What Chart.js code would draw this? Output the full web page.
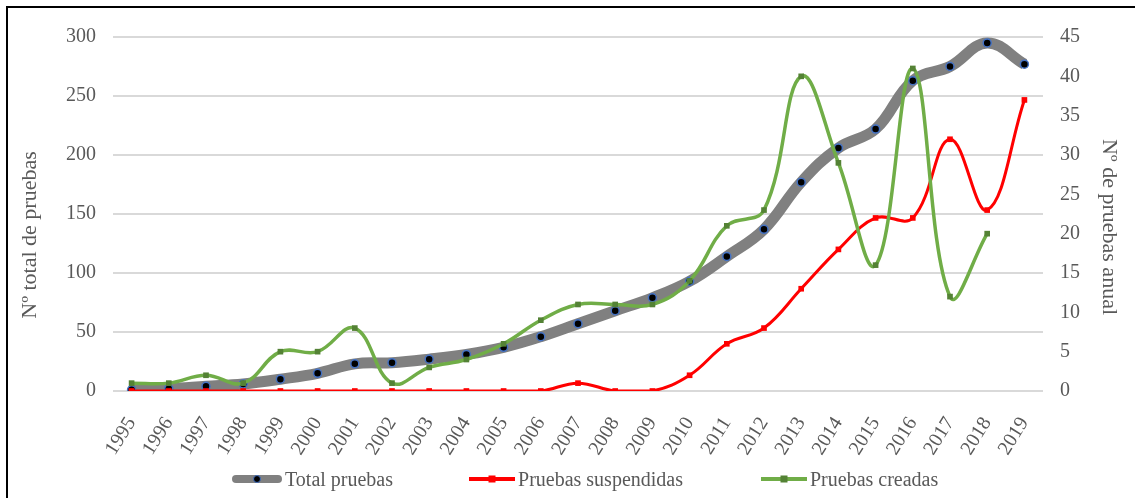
<!DOCTYPE html>
<html lang="es">
<head>
  <meta charset="UTF-8">
  <title>Pruebas por año</title>
  <script src="https://cdn.jsdelivr.net/npm/chart.js"></script>
  <style>
    body {
      margin: 0;
      background: #fff;
      font-family: "Liberation Serif", "Times New Roman", serif;
    }
    .wrap {
      position: relative;
      width: 1135px;
      height: 498px;
      overflow: hidden;
    }
    .frame {
      position: absolute;
      left: 6px;
      top: 6px;
      width: 1300px;
      height: 700px;
      border-top: 2px solid #000;
      border-left: 2px solid #000;
      pointer-events: none;
    }
    .axis-title {
      position: absolute;
      font-size: 22px;
      color: #595959;
      white-space: nowrap;
      line-height: 1;
    }
    .axis-title.left  { left: 29px;   top: 235px; transform: translate(-50%, -50%) rotate(-90deg); }
    .axis-title.right { left: 1110px; top: 227px; transform: translate(-50%, -50%) rotate(90deg); }
    .legend {
      position: absolute;
      left: 232px;
      top: 467px;
      display: flex;
      font-size: 20px;
      color: #595959;
    }
    .item { display: flex; align-items: center; }
    .item.susp { margin-left: 76px; }
    .item.crea { margin-left: 78px; }
    .sym { position: relative; width: 46px; height: 24px; margin-right: 3px; }
    .total .sym { width: 50px; }
    .sym .ln { position: absolute; left: 0; right: 0; top: 50%; transform: translateY(-50%); }
    .sym .mk { position: absolute; left: 50%; top: 50%; transform: translate(-50%, -50%); }
    .total .ln { height: 8px; background: #808080; border-radius: 4px; }
    .total .mk { width: 6px; height: 6px; border-radius: 50%; background: #000; border: 1.5px solid #4472c4; }
    .susp .ln { height: 4px; background: #ff0000; }
    .susp .mk { width: 7px; height: 7px; background: #ff0000; }
    .crea .ln { height: 4px; background: #70ad47; }
    .crea .mk { width: 7px; height: 7px; background: #548235; }
  </style>
</head>
<body>
  <div class="wrap">
    <canvas id="chart"></canvas>
    <div class="frame"></div>
    <div class="axis-title left">Nº total de pruebas</div>
    <div class="axis-title right">Nº de pruebas anual</div>
    <div class="legend">
      <div class="item total"><div class="sym"><div class="ln"></div><div class="mk"></div></div>Total pruebas</div>
      <div class="item susp"><div class="sym"><div class="ln"></div><div class="mk"></div></div>Pruebas suspendidas</div>
      <div class="item crea"><div class="sym"><div class="ln"></div><div class="mk"></div></div>Pruebas creadas</div>
    </div>
  </div>

  <script>
    const years = ['1995','1996','1997','1998','1999','2000','2001','2002','2003','2004','2005','2006',
                   '2007','2008','2009','2010','2011','2012','2013','2014','2015','2016','2017','2018','2019'];
    const totalPruebas = [1, 2, 4, 6, 10, 15, 23, 24, 27, 31, 37, 46, 57, 68, 79, 93, 114, 137, 177, 206, 222, 263, 275, 295, 277];
    const suspendidas  = [0, 0, 0, 0, 0, 0, 0, 0, 0, 0, 0, 0, 1, 0, 0, 2, 6, 8, 13, 18, 22, 22, 32, 23, 37];
    const creadas      = [1, 1, 2, 1, 5, 5, 8, 1, 3, 4, 6, 9, 11, 11, 11, 14, 21, 23, 40, 29, 16, 41, 12, 20, null];

    const textColor = '#595959';
    const font = { family: '"Liberation Serif", "Times New Roman", serif', size: 20 };

    const ctx = document.getElementById('chart').getContext('2d');

    new Chart(ctx, {
      type: 'line',
      data: {
        labels: years,
        datasets: [
          {
            label: 'Total pruebas',
            data: totalPruebas,
            yAxisID: 'y',
            borderColor: '#808080',
            borderWidth: 11,
            tension: 0.4,
            pointRadius: 4,
            pointBackgroundColor: '#000',
            pointBorderColor: '#4472c4',
            pointBorderWidth: 1.5,
            order: 3
          },
          {
            label: 'Pruebas suspendidas',
            data: suspendidas,
            yAxisID: 'y1',
            borderColor: '#ff0000',
            borderWidth: 3,
            tension: 0.4,
            pointStyle: 'rect',
            pointRadius: 4,
            pointBackgroundColor: '#ff0000',
            pointBorderColor: '#ff0000',
            pointBorderWidth: 0,
            order: 2
          },
          {
            label: 'Pruebas creadas',
            data: creadas,
            yAxisID: 'y1',
            borderColor: '#70ad47',
            borderWidth: 3.5,
            tension: 0.4,
            pointStyle: 'rect',
            pointRadius: 4,
            pointBackgroundColor: '#548235',
            pointBorderColor: '#548235',
            pointBorderWidth: 0,
            order: 1
          }
        ]
      },
      options: {
        responsive: true,
        maintainAspectRatio: false,
        animation: false,
        layout: { padding: { top: 37, left: 0, right: 0, bottom: 0 } },
        plugins: {
          legend: { display: false },
          tooltip: { enabled: false }
        },
        scales: {
          x: {
            offset: true,
            grid: { display: false },
            border: { display: false },
            ticks: {
              color: textColor,
              font: font,
              autoSkip: false,
              minRotation: 58,
              maxRotation: 58,
              padding: 14
            },
            afterFit: s => { s.height = 107; }
          },
          y: {
            position: 'left',
            min: 0,
            max: 300,
            border: { display: false },
            grid: { color: '#d9d9d9', lineWidth: 2, drawTicks: false },
            ticks: { stepSize: 50, color: textColor, font: font, padding: 17 },
            afterFit: s => { s.width = 113; }
          },
          y1: {
            position: 'right',
            min: 0,
            max: 45,
            border: { display: false },
            grid: { display: false, drawTicks: false },
            ticks: { stepSize: 5, color: textColor, font: font, padding: 17 },
            afterFit: s => { s.width = 92; }
          }
        }
      }
    });
  </script>
</body>
</html>
